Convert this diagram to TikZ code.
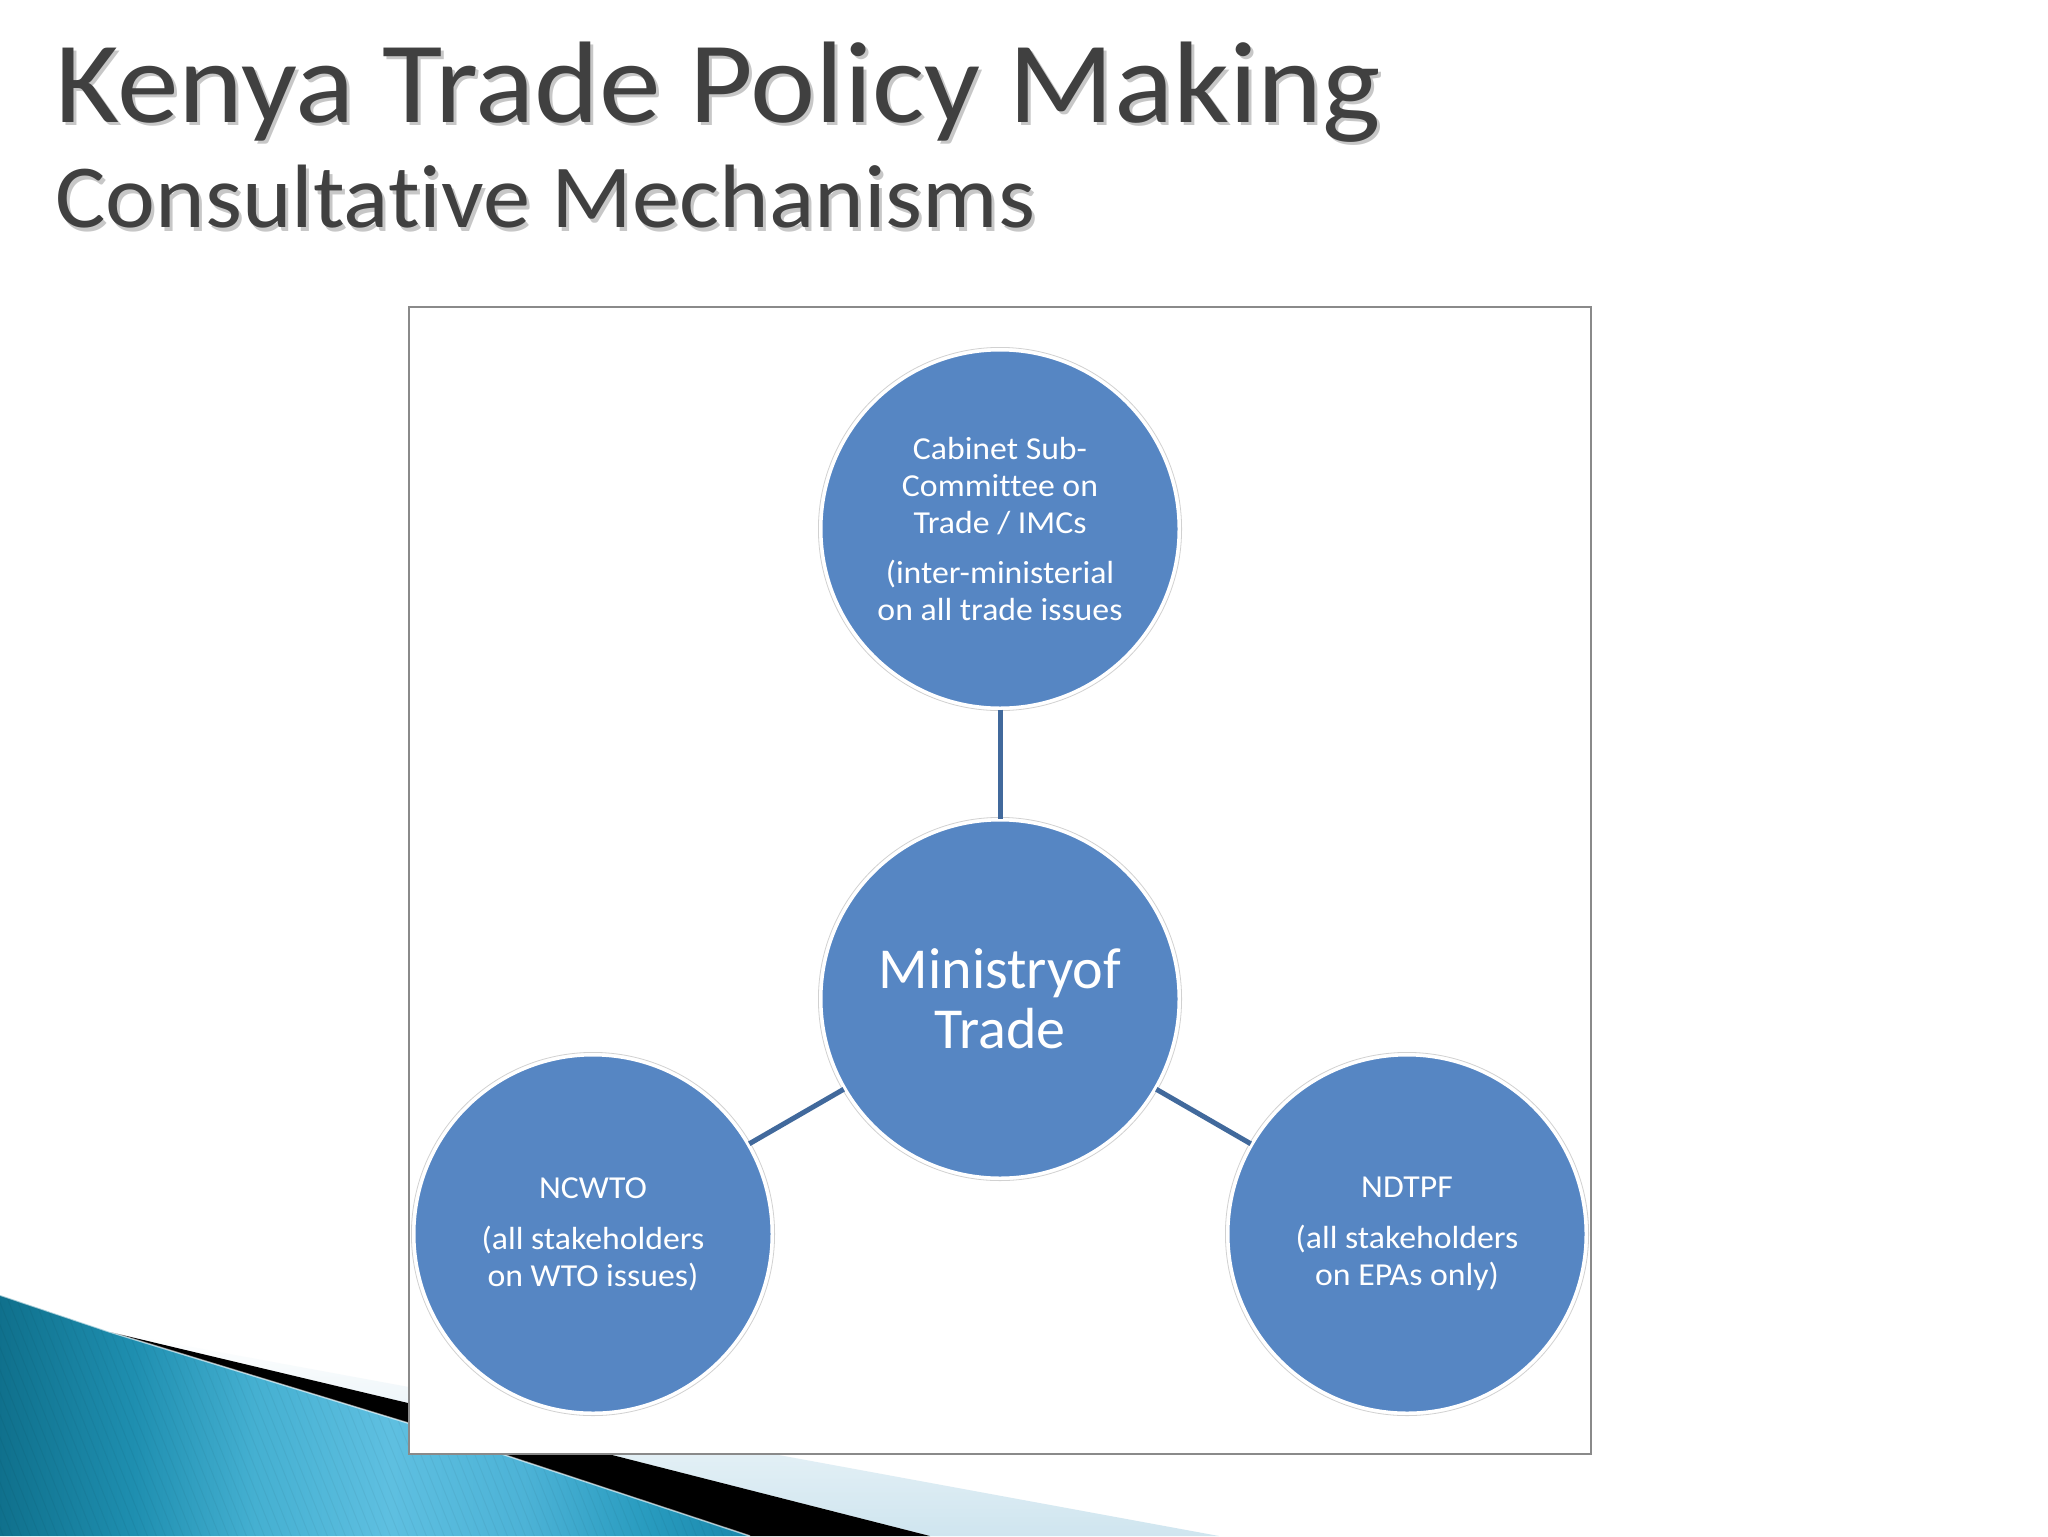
\documentclass[tikz,border=0pt]{standalone}
\usepackage{fontspec}
\setmainfont{Carlito}[Ligatures=NoCommon]
\newfontfamily\titlefont{Carlito}[Ligatures=NoCommon, FakeStretch=1.065]
\newfontfamily\subtitlefont{Carlito}[Ligatures=NoCommon, FakeStretch=1.05]
\newfontfamily\smallfont{Carlito}[Ligatures=NoCommon, FakeStretch=1.055]
\definecolor{circblue}{HTML}{5686C3}
\definecolor{linkblue}{HTML}{41699C}
\definecolor{titlegray}{HTML}{404040}
\definecolor{palestripe}{HTML}{CFE5EF}
\definecolor{boxgray}{HTML}{8A8A8A}
\pgfdeclarehorizontalshading{tealshade}{100bp}{%
  rgb(0bp)=(0.06,0.44,0.55);
  rgb(25bp)=(0.06,0.44,0.55);
  rgb(34bp)=(0.12,0.56,0.69);
  rgb(42bp)=(0.27,0.69,0.82);
  rgb(51bp)=(0.37,0.75,0.88);
  rgb(60bp)=(0.30,0.70,0.84);
  rgb(68bp)=(0.16,0.61,0.75);
  rgb(75bp)=(0.10,0.53,0.67);
  rgb(100bp)=(0.10,0.53,0.67)}
\begin{document}
\begin{tikzpicture}[x=0.5pt,y=-0.5pt,
  bubble/.style={circle, fill=circblue, draw=white, line width=1.5pt,
    minimum size=179pt, inner sep=0pt, text=white, align=center,
    font=\smallfont\fontsize{16}{18.5}\selectfont},
  bigtext/.style={font=\fontsize{29}{30}\selectfont},
  link/.style={draw=linkblue, line width=2.5pt},
  ring/.style={draw=black!18, line width=0.4pt},
  titletext/.style={anchor=base west, inner sep=0pt, text=titlegray},
  shadowtext/.style={anchor=base west, inner sep=0pt, text=black, opacity=0.22}]
\useasboundingbox (0,0) rectangle (2048,1536);
\fill[white] (0,0) rectangle (2048,1536);

% decorative swoosh bottom-left
\shade[top color=white, bottom color=palestripe]
  (110,1332) -- (1219,1536) -- (930,1536) -- (408,1403) -- cycle;
\fill[black] (110,1332) -- (408,1403) -- (930,1536) -- (750,1536) -- (408,1423) -- cycle;
\shade[shading=tealshade]
  (0,1295) -- (110,1332) -- (408,1423) -- (750,1536) -- (0,1536) -- cycle;
\begin{scope}
  \clip (0,1295) -- (110,1332) -- (408,1423) -- (750,1536) -- (0,1536) -- cycle;
  \foreach \i in {-15,...,85}
    \draw[black, opacity=0.045, line width=0.5pt] (\i*9,1280) -- ++(104,260);
\end{scope}
\draw[white, opacity=0.6, line width=0.8pt] (0,1295) -- (110,1332) -- (408,1423) -- (750,1536);

% title
\node[shadowtext, font=\titlefont\fontsize{58}{60}\selectfont] at (58,126) {Kenya Trade Policy Making};
\node[titletext, font=\titlefont\fontsize{58}{60}\selectfont] (title) at (55,122) {Kenya Trade Policy Making};
\node[shadowtext, font=\subtitlefont\fontsize{45}{48}\selectfont] at (58,231) {Consultative Mechanisms};
\node[titletext, font=\subtitlefont\fontsize{45}{48}\selectfont] (subtitle) at (55,227) {Consultative Mechanisms};

% frame
\draw[fill=white, draw=boxgray, line width=1pt] (409,307) rectangle (1591,1454);

% circles
\node[bubble] (top) at (1000,529) {Cabinet Sub-\\Committee on\\Trade / IMCs\\[6.5pt](inter-ministerial\\on all trade issues};
\node[bubble, bigtext] (mid) at (1000,999) {Ministryof\\Trade};
\node[bubble] (left) at (593,1234) {NCWTO\\[7pt](all stakeholders\\on WTO issues)};
\node[bubble] (right) at (1407,1234) {NDTPF\\[7pt](all stakeholders\\on EPAs only)};
\foreach \n in {top,mid,left,right}
  \draw[ring] (\n.center) circle[radius=90.8pt];

% connectors
\draw[link] (top) -- (mid);
\draw[link] (left) -- (mid);
\draw[link] (right) -- (mid);
\end{tikzpicture}
\end{document}
